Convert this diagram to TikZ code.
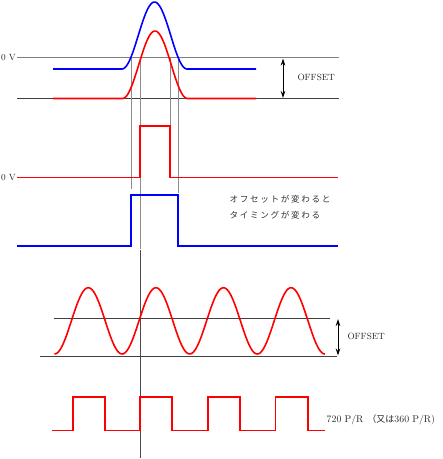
\documentclass[tikz,border=0pt]{standalone}
\usepackage{fontspec}
\newfontfamily\cjk{Noto Sans CJK JP}
\usetikzlibrary{arrows.meta}
\definecolor{sigred}{RGB}{255,0,0}
\definecolor{sigblue}{RGB}{0,0,255}
\tikzset{
  sig/.style={line width=1.6pt, line join=miter},
  redsig/.style={sig, draw=sigred},
  bluesig/.style={sig, draw=sigblue},
  refline/.style={line width=0.7pt, draw=black!75},
  zeroline/.style={line width=0.8pt, draw=black!50},
  guide/.style={line width=0.8pt, draw=black!45},
  axisline/.style={line width=0.7pt, draw=black!70},
  offarrow/.style={line width=0.8pt, {Stealth[length=7pt,width=4.5pt]}-{Stealth[length=7pt,width=4.5pt]}},
  lbl/.style={font=\fontsize{9pt}{11pt}\selectfont, inner sep=0.5pt, text=black!85},
  jlbl/.style={font=\cjk\fontsize{8.6pt}{16pt}\selectfont\addfontfeature{LetterSpace=19}, inner sep=0pt, text=black!80, align=left}
}
\begin{document}
\begin{tikzpicture}[x=1pt,y=-1pt]
\useasboundingbox (0,0) rectangle (443,459);
% ---------- top section ----------
\draw[zeroline] (17,57.5) -- (339,57.5);
\draw[refline] (17,98.7) -- (339,98.7);
% guide lines
\draw[guide] (131,57.5) -- (131,189);
\draw[guide] (140,57.5) -- (140,249);
\draw[guide] (170,57.5) -- (170,125);
\draw[guide] (178.7,57.5) -- (178.7,193);
\draw[axisline] (140.3,250) -- (140.3,458);
% blue bell
\draw[bluesig] (53,69) -- (122,69)
  -- plot[domain=122:187,samples=60] (\x,{69-67*(1-cos((\x-122)/65*360))/2})
  -- (256,69);
% red bell
\draw[redsig] (53,98.5) -- (122.5,98.5)
  -- plot[domain=122.5:187.5,samples=60] (\x,{98.5-67.5*(1-cos((\x-122.5)/65*360))/2})
  -- (256,98.5);
% offset arrow top
\coordinate (o1t) at (283,58.5);
\coordinate (o1b) at (283,98);
\draw[offarrow] (o1t) -- (o1b);
\node[lbl, anchor=west] (off1) at (296.8,77.5) {OFFSET};
\node[lbl, anchor=east] (zv1) at (16.5,57.5) {0 V};
% ---------- red pulse ----------
\draw[redsig] (17,177.5) -- (140,177.5) -- (140,126) -- (170,126) -- (170,177.5) -- (338,177.5);
\node[lbl, anchor=east] (zv2) at (16.5,177.5) {0 V};
% ---------- blue pulse ----------
\draw[bluesig] (17,245.7) -- (131,245.7) -- (131,194.7) -- (178,194.7) -- (178,245.7) -- (338,245.7);
\node[jlbl, anchor=north west] (jp) at (229.5,195.5) {オフセットが変わると\\タイミングが変わる};
% ---------- sine section ----------
\draw[refline] (54,318.3) -- (330,318.3);
\draw[refline] (40,356) -- (337,356);
\draw[redsig] plot[domain=54.5:325,samples=200] (\x,{354-66.3*(1-cos((\x-54.5)/67.6*360))/2});
\coordinate (o2t) at (338,319);
\coordinate (o2b) at (338,355.5);
\draw[offarrow] (o2t) -- (o2b);
\node[lbl, anchor=west] (off2) at (346.8,336) {OFFSET};
% ---------- square wave ----------
\draw[redsig] (52,430.3) -- (73,430.3) -- (73,397) -- (105,397) -- (105,430.3)
  -- (140,430.3) -- (140,397) -- (172,397) -- (172,430.3)
  -- (208,430.3) -- (208,397) -- (240,397) -- (240,430.3)
  -- (275.5,430.3) -- (275.5,397) -- (308,397) -- (308,430.3) -- (325,430.3);
\node[lbl, anchor=west, font=\fontsize{9.8pt}{11pt}\selectfont] (pr) at (326,420) {720 P/R\hspace{4pt}{\cjk\fontsize{9pt}{11pt}\selectfont （又は}360 P/R)};
\end{tikzpicture}
\end{document}
